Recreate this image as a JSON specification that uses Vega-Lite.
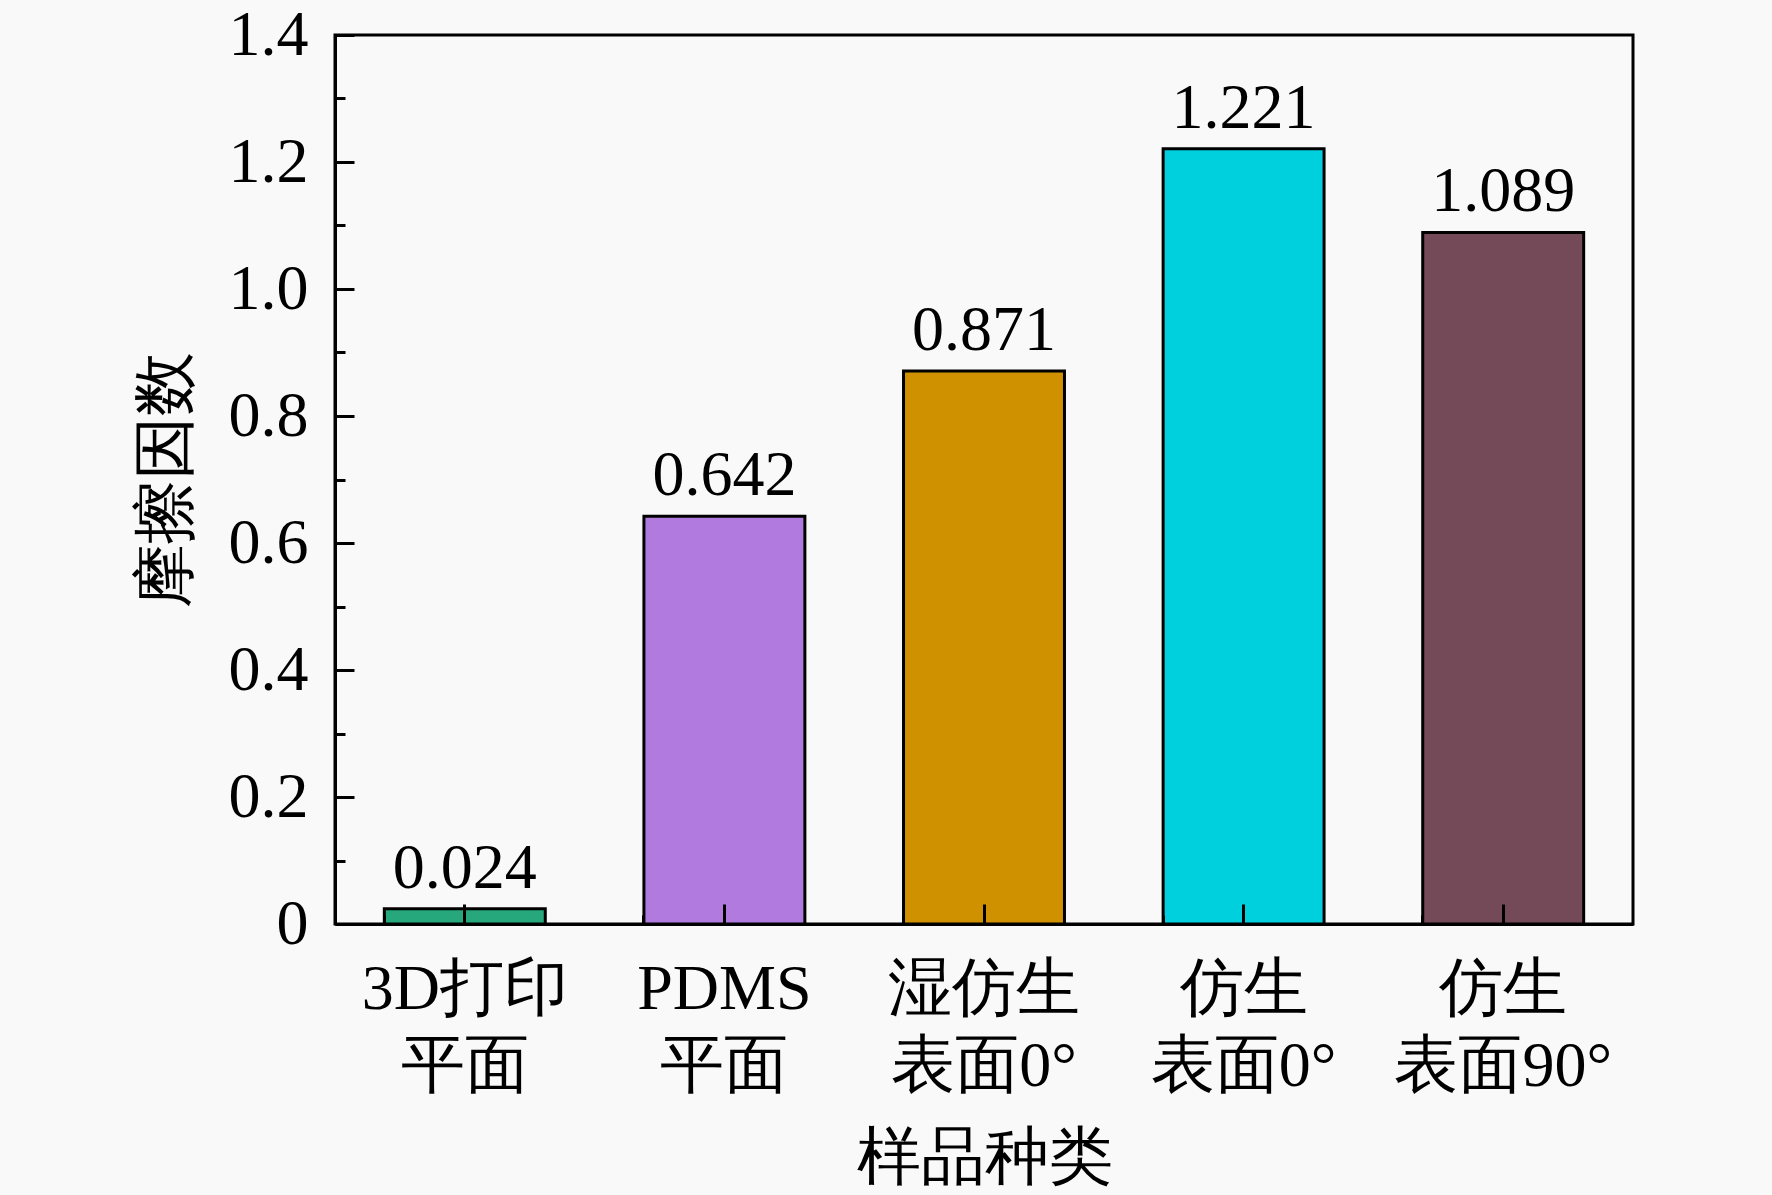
{
  "$schema": "https://vega.github.io/schema/vega-lite/v6.json",
  "width": 1298,
  "height": 889,
  "autosize": "none",
  "padding": {"left": 335, "top": 35, "right": 139, "bottom": 271},
  "background": "#f9f9f9",
  "config": {
    "font": "Liberation Serif",
    "view": {"stroke": "black", "strokeWidth": 3}
  },
  "data": {
    "values": [
      {"sample": "3D打印 平面", "cof": 0.024},
      {"sample": "PDMS 平面", "cof": 0.642},
      {"sample": "湿仿生 表面0°", "cof": 0.871},
      {"sample": "仿生 表面0°", "cof": 1.221},
      {"sample": "仿生 表面90°", "cof": 1.089}
    ]
  },
  "layer": [
    {
      "mark": {"type": "bar", "stroke": "black", "strokeWidth": 3},
      "encoding": {
        "x": {
          "field": "sample", "type": "nominal", "sort": null,
          "scale": {"paddingInner": 0.38, "paddingOuter": 0.19},
          "axis": {
            "orient": "bottom", "title": "样品种类", "labelAngle": 0,
            "labelExpr": "split(datum.label, ' ')", "labelLimit": 0,
            "labelFontSize": 64, "labelLineHeight": 77, "labelColor": "black",
            "labelPadding": 53, "tickSize": -20, "tickWidth": 3, "tickColor": "black",
            "domainColor": "black", "domainWidth": 3,
            "titleFontSize": 64, "titleFontWeight": "normal", "titleColor": "black",
            "titlePadding": 28, "zindex": 1
          }
        },
        "y": {
          "field": "cof", "type": "quantitative",
          "scale": {"domain": [0, 1.4], "nice": false},
          "axis": {
            "orient": "left", "title": "摩擦因数",
            "values": [0, 0.2, 0.4, 0.6, 0.8, 1.0, 1.2, 1.4],
            "labelExpr": "datum.value == 0 ? '0' : format(datum.value, '.1f')",
            "labelFontSize": 64, "labelColor": "black", "labelPadding": 46,
            "tickSize": -19, "tickWidth": 3, "tickColor": "black",
            "domainColor": "black", "domainWidth": 3, "grid": false,
            "titleFontSize": 64, "titleFontWeight": "normal", "titleColor": "black",
            "titlePadding": 30, "zindex": 1
          }
        },
        "color": {
          "field": "sample", "type": "nominal", "legend": null,
          "scale": {
            "domain": ["3D打印 平面", "PDMS 平面", "湿仿生 表面0°", "仿生 表面0°", "仿生 表面90°"],
            "range": ["#27a87c", "#b07ade", "#cf9100", "#00cfdd", "#744a58"]
          }
        }
      }
    },
    {
      "mark": {"type": "text", "baseline": "bottom", "dy": -8, "fontSize": 64, "color": "black"},
      "encoding": {
        "x": {
          "field": "sample", "type": "nominal", "sort": null,
          "axis": {
            "orient": "bottom", "title": null, "labels": false, "bandPosition": 0,
            "tickSize": -9, "tickWidth": 3, "tickColor": "black", "domain": false, "zindex": 1
          }
        },
        "y": {
          "field": "cof", "type": "quantitative",
          "axis": {
            "orient": "left", "title": null, "labels": false, "grid": false,
            "values": [0.1, 0.3, 0.5, 0.7, 0.9, 1.1, 1.3],
            "tickSize": -10, "tickWidth": 3, "tickColor": "black", "domain": false, "zindex": 1
          }
        },
        "text": {"field": "cof", "type": "quantitative", "format": ".3f"}
      }
    }
  ],
  "resolve": {"axis": {"x": "independent", "y": "independent"}}
}
